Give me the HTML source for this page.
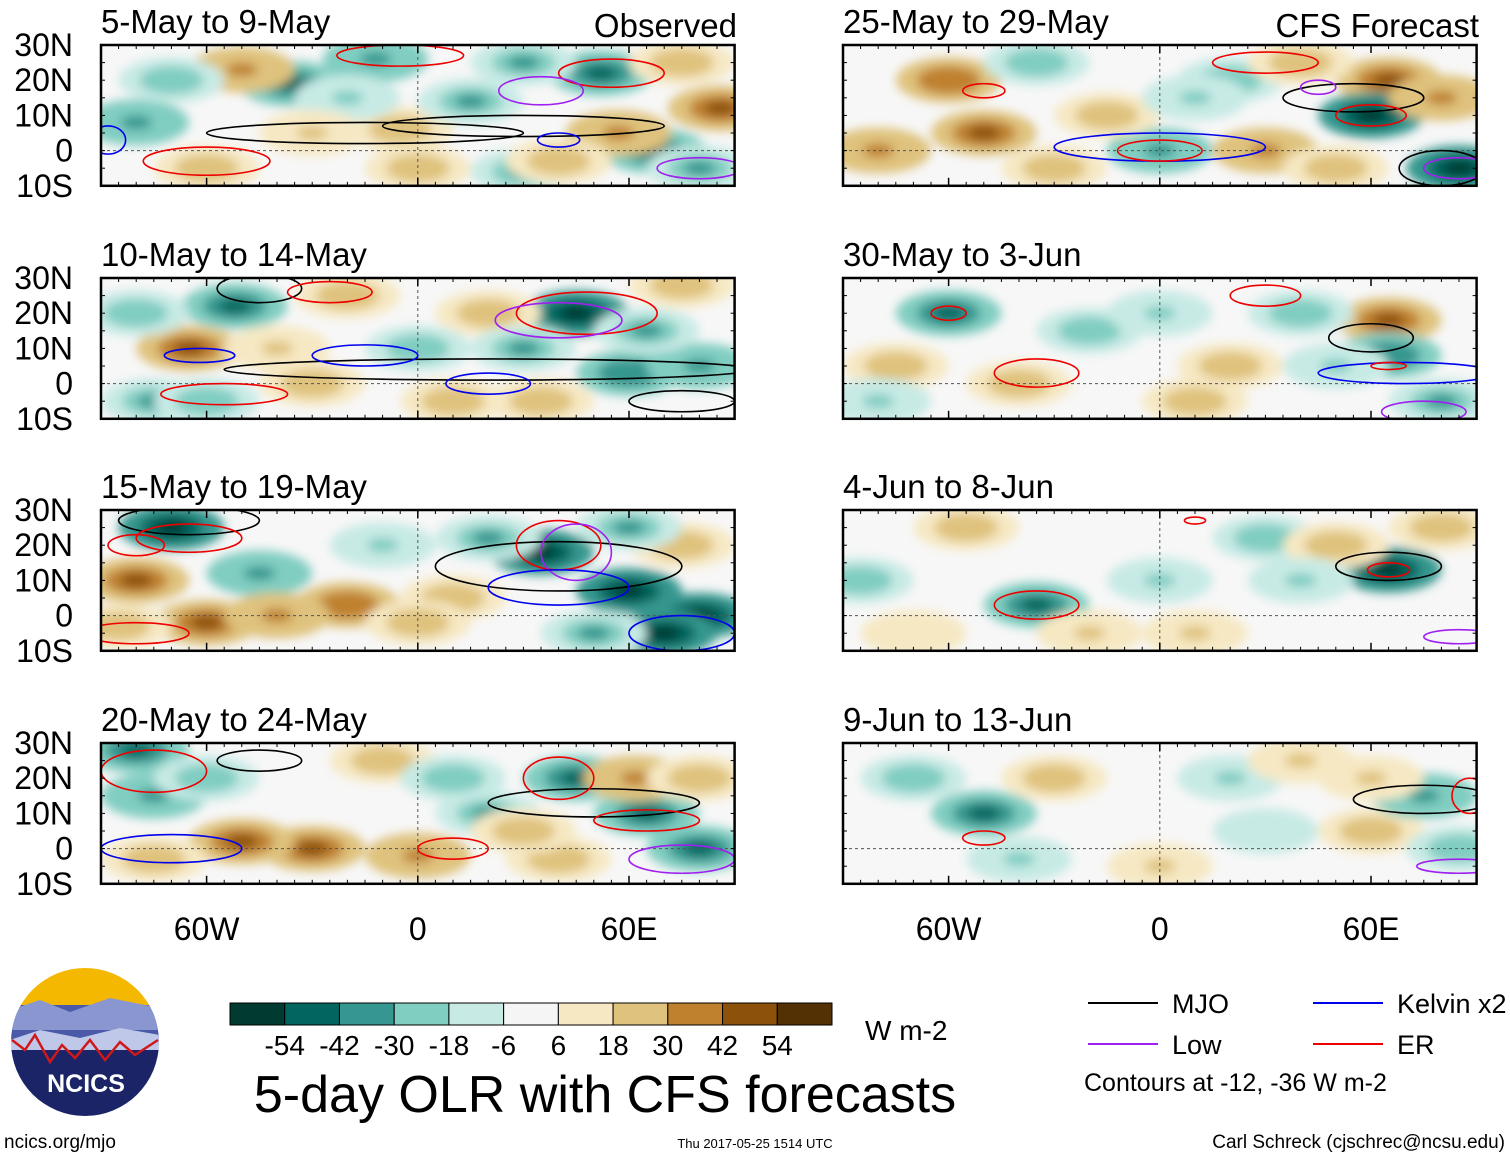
<!DOCTYPE html>
<html><head><meta charset="utf-8"><style>
body{margin:0;background:#fff;width:1510px;height:1158px;overflow:hidden;font-family:"Liberation Sans",sans-serif}
svg text{font-family:"Liberation Sans",sans-serif}
</style></head><body>
<svg id="c" width="1510" height="1158" xmlns="http://www.w3.org/2000/svg">
<defs><filter id="bl" x="-50%" y="-50%" width="200%" height="200%"><feGaussianBlur stdDeviation="5"/></filter></defs>
</svg>
<script>
const titles=["5-May to 9-May","10-May to 14-May","15-May to 19-May","20-May to 24-May","25-May to 29-May","30-May to 3-Jun","4-Jun to 8-Jun","9-Jun to 13-Jun"];
const levels=[-54,-42,-30,-18,-6,6,18,30,42,54];
const colors=["#013a30","#01665e","#35978f","#80cdc1","#c7eae5","#f5f5f5","#f6e8c3","#dfc27d","#bf812d","#8c510a","#543005"];
const latTicks=[30,20,10,0,-10];
const latLabels=["30N","20N","10N","0","10S"];
const lonTicks=[-60,0,60];
const lonLabels=["60W","0","60E"];
// anomaly blobs per panel: [lon, lat, value W m-2]
const blobs=[
[[-36,19,-45],[52,22,-50],[67,0,-45],[86,12,50],[-50,23,35],[-5,6,30],[57,5,35],[-12,26,-35],[15,14,-30],[30,-6,-30],[-80,8,-35],[0,-5,25],[40,-3,25],[75,25,25],[-70,20,-25],[-20,15,-20],[30,25,-30],[-60,-5,25],[80,-5,-30],[-30,5,20]],
[[-52,22,-45],[45,20,-58],[60,3,-40],[-65,10,45],[-20,25,30],[20,20,30],[80,5,-35],[-75,-5,-30],[0,10,-25],[75,28,30],[-30,0,25],[35,-5,25],[-80,20,-25],[30,10,-30],[65,15,-30],[-40,10,20],[10,-5,25],[-60,-5,-25]],
[[-70,25,-58],[-80,10,45],[-60,-2,45],[-20,3,40],[10,5,30],[35,18,-58],[60,7,-58],[80,0,-55],[70,-5,-55],[-45,12,-35],[20,22,-30],[75,20,25],[-40,0,35],[-10,20,-20],[50,-5,-30],[-85,-3,25],[0,-2,30],[60,25,-30]],
[[-30,0,50],[-50,2,45],[0,-2,35],[-80,28,-45],[45,20,-50],[65,10,-50],[80,0,-45],[-75,15,-35],[62,20,35],[20,10,-30],[40,-3,30],[-10,25,25],[-60,20,-25],[-75,-3,25],[10,20,-25],[30,5,25],[80,20,25]],
[[-50,5,50],[-60,20,40],[65,20,45],[60,10,-55],[85,-5,-55],[0,0,-35],[-35,25,-25],[20,20,-25],[30,0,35],[-80,0,35],[40,25,30],[80,15,35],[-15,10,25],[10,15,-20],[-30,-5,25],[50,-5,25]],
[[-60,20,-50],[65,18,50],[65,8,-40],[-75,5,30],[-20,15,-25],[40,20,-25],[10,-5,25],[-40,0,25],[80,-5,-30],[20,5,25],[0,20,-20],[50,5,-20],[-80,-5,-20]],
[[-35,3,-45],[65,13,-55],[-55,25,30],[30,22,-25],[0,10,-20],[50,20,25],[-20,-5,20],[80,25,25],[-85,10,-25],[10,-5,20],[40,10,-20],[-70,-5,15]],
[[-50,10,-50],[-30,20,25],[60,5,25],[75,15,-35],[-70,20,-25],[20,20,-20],[0,-5,20],[85,0,-25],[40,25,20],[-40,-3,-20],[60,20,20],[30,5,-15]]
];
// contour ellipses per panel: [lon, lat, lonRadius, latRadius, type] type 0 MJO,1 Kelvin,2 Low,3 ER
const contours=[
[[-15,5,45,3,0],[30,7,40,3,0],[-60,-3,18,4,3],[-5,27,18,3,3],[55,22,15,4,3],[35,17,12,4,2],[80,-5,12,3,2],[-88,3,5,4,1],[40,3,6,2,1]],
[[20,4,75,3,0],[75,-5,15,3,0],[-45,27,12,4,0],[-25,26,12,3,3],[48,20,20,6,3],[-55,-3,18,3,3],[-15,8,15,3,1],[40,18,18,5,2],[20,0,12,3,1],[-62,8,10,2,1]],
[[-65,27,20,4,0],[40,14,35,7,0],[-65,22,15,4,3],[-80,-5,15,3,3],[40,20,12,7,3],[75,-5,15,5,1],[45,18,10,8,2],[40,8,20,5,1],[-80,20,8,3,3]],
[[-45,25,12,3,0],[50,13,30,4,0],[-75,22,15,6,3],[-70,0,20,4,1],[75,-3,15,4,2],[40,20,10,6,3],[65,8,15,3,3],[10,0,10,3,3]],
[[0,1,30,4,1],[-50,17,6,2,3],[0,0,12,3,3],[55,15,20,4,0],[80,-5,12,5,0],[30,25,15,3,3],[60,10,10,3,3],[45,18,5,2,2],[85,-5,10,3,2]],
[[60,13,12,4,0],[70,3,25,3,1],[-60,20,5,2,3],[-35,3,12,4,3],[30,25,10,3,3],[75,-8,12,3,2],[65,5,5,1,3]],
[[-35,3,12,4,3],[65,14,15,4,0],[65,13,6,2,3],[85,-6,10,2,2],[10,27,3,1,3]],
[[75,14,20,4,0],[-50,3,6,2,3],[85,-5,12,2,2],[88,15,5,5,3]]
];
const typeColors=["#000000","#0000ee","#a020f0","#ee0000"];
const S=3.52,NS="http://www.w3.org/2000/svg";
const svg=document.getElementById('c');
function mk(t,a,p){const e=document.createElementNS(NS,t);for(const k in a)e.setAttribute(k,a[k]);(p||svg).appendChild(e);return e;}
function col(v){let i=0;while(i<levels.length&&v>levels[i])i++;return colors[i];}
const X0=[101,101,101,101,843,843,843,843],Y0=[45,278,510,743,45,278,510,743];
for(let p=0;p<8;p++){
 const x0=X0[p],y0=Y0[p];
 const xs=lon=>x0+(lon+90)*S, ys=lat=>y0+(30-lat)*S;
 const g=mk('g',{});
 
 
 mk('clipPath',{id:'cp'+p},g).appendChild(document.createElementNS(NS,'rect'));
 const cr=g.querySelector('clipPath rect');cr.setAttribute('x',x0);cr.setAttribute('y',y0);cr.setAttribute('width',180*S);cr.setAttribute('height',40*S);
 const inner=mk('g',{'clip-path':'url(#cp'+p+')'},g);
 mk('rect',{x:x0,y:y0,width:180*S,height:40*S,fill:'#f7f7f7'},inner);
 const bg=mk('g',{filter:'url(#bl)'},inner);
 blobs[p].forEach(b=>{
  const e=mk('ellipse',{cx:xs(b[0]),cy:ys(b[1]),rx:15*S,ry:6.5*S,fill:col(b[2]*0.55)},bg);
  
  const e2=mk('ellipse',{cx:xs(b[0]),cy:ys(b[1]),rx:9*S,ry:4*S,fill:col(b[2]*0.8)},bg);
  
  const e3=mk('ellipse',{cx:xs(b[0]),cy:ys(b[1]),rx:4.5*S,ry:2*S,fill:col(b[2])},bg);
  
 });
 mk('line',{x1:x0,x2:x0+180*S,y1:ys(0),y2:ys(0),stroke:'#555','stroke-dasharray':'3,3','stroke-width':1},inner);
 mk('line',{x1:xs(0),x2:xs(0),y1:y0,y2:y0+40*S,stroke:'#555','stroke-dasharray':'3,3','stroke-width':1},inner);
 contours[p].forEach(c=>{
  const e=mk('ellipse',{cx:xs(c[0]),cy:ys(c[1]),rx:c[2]*S,ry:c[3]*S,fill:'none',stroke:typeColors[c[4]],'stroke-width':1.6},inner);
  
 });
 mk('rect',{x:x0,y:y0,width:180*S,height:40*S,fill:'none',stroke:'#000','stroke-width':2.5},g);
 for(let l=-90;l<=90;l+=5){mk('line',{x1:xs(l),x2:xs(l),y1:y0,y2:y0+4,stroke:'#000'},g);mk('line',{x1:xs(l),x2:xs(l),y1:y0+40*S,y2:y0+40*S-4,stroke:'#000'},g);}
 for(let l=-10;l<=30;l+=5){mk('line',{x1:x0,x2:x0+4,y1:ys(l),y2:ys(l),stroke:'#000'},g);mk('line',{x1:x0+180*S,x2:x0+180*S-4,y1:ys(l),y2:ys(l),stroke:'#000'},g);}
 lonTicks.forEach(l=>{mk('line',{x1:xs(l),x2:xs(l),y1:y0,y2:y0+8,stroke:'#000','stroke-width':1.5},g);mk('line',{x1:xs(l),x2:xs(l),y1:y0+40*S,y2:y0+40*S-8,stroke:'#000','stroke-width':1.5},g);});
 const t=mk('text',{x:x0,y:y0-12,'font-size':33},g);t.textContent=titles[p];
 
 if(p<4){latTicks.forEach((l,i)=>{const tt=mk('text',{x:73,y:ys(l)+11,'font-size':32,'text-anchor':'end'},g);tt.textContent=latLabels[i];
  });}
 if(p==3||p==7){lonTicks.forEach((l,i)=>{const tt=mk('text',{x:xs(l),y:940,'font-size':32,'text-anchor':'middle'},g);tt.textContent=lonLabels[i];
  });}
}
function txt(x,y,s,str,name,anchor){const t=mk('text',{x:x,y:y,'font-size':s,'text-anchor':anchor||'start'});t.textContent=str;return t;}
txt(737,37,33,"Observed","observed-label","end");
txt(1479,37,33,"CFS Forecast","forecast-label","end");
const cb=mk('g',{});
const bw=602/11;
colors.forEach((c,i)=>mk('rect',{x:230+i*bw,y:1003,width:bw,height:22,fill:c,stroke:'#000','stroke-width':1},cb));
levels.forEach((l,i)=>{const t=mk('text',{x:230+(i+1)*bw,y:1055,'font-size':28,'text-anchor':'middle'},cb);t.textContent=l;});
txt(865,1040,28,"W m-2","units-label");
txt(605,1112,52,"5-day OLR with CFS forecasts","chart-title","middle");
const lg=mk('g',{});
[["MJO",0,1088,1003],["Kelvin x2",1,1313,1003],["Low",2,1088,1044],["ER",3,1313,1044]].forEach(d=>{
 mk('line',{x1:d[2],x2:d[2]+70,y1:d[3],y2:d[3],stroke:typeColors[d[1]],'stroke-width':2},lg);
 const t=mk('text',{x:d[2]+84,y:d[3]+10,'font-size':27},lg);t.textContent=d[0];});
txt(1084,1091,25,"Contours at -12, -36 W m-2","contour-note");
txt(4,1148,19,"ncics.org/mjo","url-label");
txt(755,1148,13,"Thu 2017-05-25 1514 UTC","timestamp","middle");
txt(1505,1148,19,"Carl Schreck (cjschrec@ncsu.edu)","author-label","end");
const lo=mk('g',{});
mk('clipPath',{id:'lc'},lo).appendChild(document.createElementNS(NS,'circle'));
const lcc=lo.querySelector('#lc circle');lcc.setAttribute('cx',85);lcc.setAttribute('cy',1042);lcc.setAttribute('r',74);
const li=mk('g',{'clip-path':'url(#lc)'},lo);
mk('rect',{x:0,y:960,width:170,height:50,fill:'#f5b800'},li);
mk('rect',{x:0,y:1005,width:170,height:40,fill:'#4a5aa8'},li);
mk('path',{d:'M10 1010 L40 1000 L70 1012 L110 998 L160 1008 L160 1030 L10 1030Z',fill:'#8a96d0'},li);
mk('path',{d:'M10 1040 L40 1030 L80 1038 L120 1028 L160 1035 L160 1050 L10 1050Z',fill:'#c0c8ea'},li);
mk('rect',{x:0,y:1050,width:170,height:70,fill:'#1a2466'},li);
mk('path',{d:'M12 1040 L25 1050 L35 1035 L50 1062 L62 1045 L75 1058 L90 1040 L105 1060 L120 1042 L135 1055 L158 1040',fill:'none',stroke:'#d01818','stroke-width':2.5},li);
const lt=mk('text',{x:86,y:1092,'font-size':25,'font-weight':'bold','text-anchor':'middle',fill:'#fff'},lo);lt.textContent="NCICS";
</script>
</body></html>
